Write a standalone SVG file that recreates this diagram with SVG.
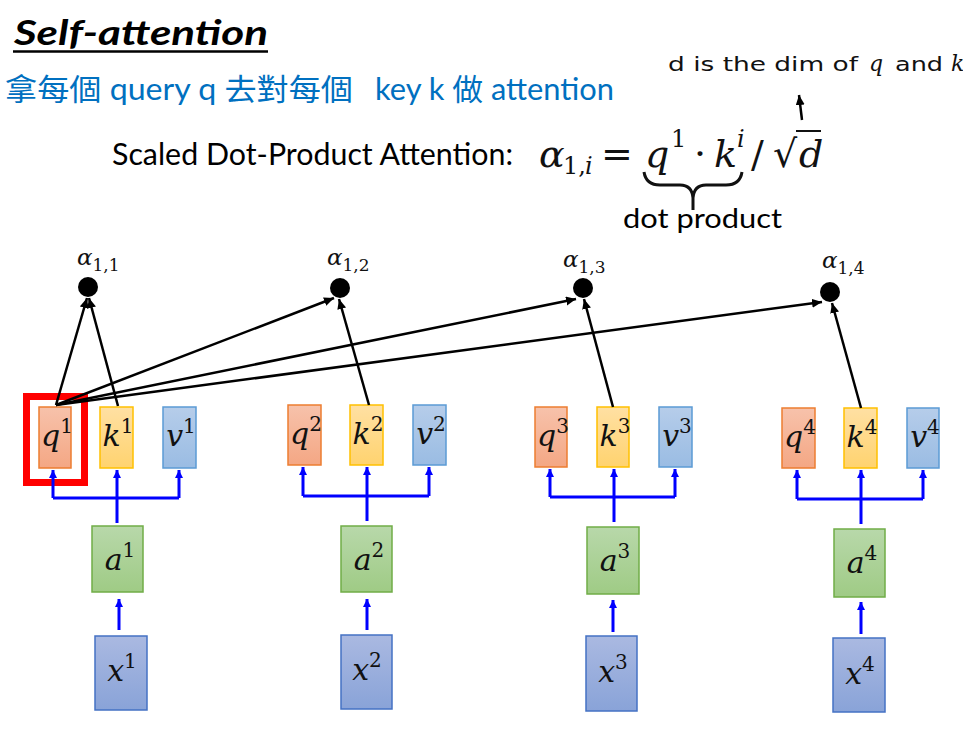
<svg xmlns="http://www.w3.org/2000/svg" width="963" height="729" viewBox="0 0 963 729">
<defs>
<linearGradient id="gq" x1="0" y1="0" x2="0" y2="1"><stop offset="0" stop-color="#F7C2AB"/><stop offset="1" stop-color="#F4A784"/></linearGradient>
<linearGradient id="gk" x1="0" y1="0" x2="0" y2="1"><stop offset="0" stop-color="#FFE0A3"/><stop offset="1" stop-color="#FFD36F"/></linearGradient>
<linearGradient id="gv" x1="0" y1="0" x2="0" y2="1"><stop offset="0" stop-color="#B6CDEA"/><stop offset="1" stop-color="#9ABCE3"/></linearGradient>
<linearGradient id="ga" x1="0" y1="0" x2="0" y2="1"><stop offset="0" stop-color="#B8D8AA"/><stop offset="1" stop-color="#9FCB85"/></linearGradient>
<linearGradient id="gx" x1="0" y1="0" x2="0" y2="1"><stop offset="0" stop-color="#AAB9E1"/><stop offset="1" stop-color="#89A3D8"/></linearGradient>
<marker id="ab" markerUnits="userSpaceOnUse" markerWidth="10" markerHeight="10" refX="8" refY="4" orient="auto"><path d="M0,0 L8,4 L0,8 z" fill="#0000FF"/></marker>
<marker id="ak" markerUnits="userSpaceOnUse" markerWidth="12" markerHeight="10" refX="10" refY="4.5" orient="auto"><path d="M0,0 L10,4.5 L0,9 z" fill="#000"/></marker>
</defs>
<style>
.q{fill:url(#gq);stroke:#ED7D31;stroke-width:1.5}
.k{fill:url(#gk);stroke:#FFC000;stroke-width:1.5}
.v{fill:url(#gv);stroke:#5B9BD5;stroke-width:1.5}
.a{fill:url(#ga);stroke:#70AD47;stroke-width:1.5}
.x{fill:url(#gx);stroke:#4472C4;stroke-width:1.5}
.lbl{font-family:"DejaVu Serif","Liberation Serif",serif;font-style:italic;font-size:30px;fill:#111;text-anchor:middle}
.sup{font-style:normal;font-size:20px}
.al{font-family:"DejaVu Serif","Liberation Serif",serif;font-style:italic;font-size:23px;fill:#111}
.sub{font-style:normal;font-size:17px}
.blue{stroke:#0000FF;stroke-width:3;fill:none}
.blk{stroke:#000;stroke-width:2.5;fill:none}
.sans{font-family:Lato,"Open Sans","Noto Sans CJK TC",sans-serif}
.m{font-family:"DejaVu Serif","Liberation Serif",serif;fill:#111}
.nt{font-family:"DejaVu Sans",Verdana,sans-serif;font-size:20px}
.ni{font-family:"DejaVu Serif",serif;font-style:italic;font-size:22px}
</style>

<g id="title">
<text x="14" y="45" font-family="Lato,'Liberation Sans',sans-serif" font-weight="bold" font-style="italic" font-size="34" textLength="254" lengthAdjust="spacingAndGlyphs" fill="#000">Self-attention</text>
<line x1="13" y1="51.5" x2="268" y2="51.5" stroke="#000" stroke-width="2.5"/>
</g>
<g id="subtitle" fill="#0070C0" font-size="30">
<text class="sans" x="5" y="100" textLength="348" lengthAdjust="spacingAndGlyphs">拿每個 query q 去對每個</text>
<text class="sans" x="375" y="100" textLength="239" lengthAdjust="spacingAndGlyphs">key k 做 attention</text>
</g>
<g id="formula">
<text class="sans" x="112" y="165" font-size="30" textLength="401" lengthAdjust="spacingAndGlyphs" fill="#000">Scaled Dot-Product Attention:</text>
<text class="m" font-size="38"><tspan x="539" y="167" font-style="italic">α</tspan><tspan x="563" y="174" font-size="24">1,</tspan><tspan x="585" y="174" font-size="24" font-style="italic">i</tspan><tspan x="601" y="167">=</tspan><tspan x="645" y="167" font-style="italic">q</tspan><tspan x="671" y="147" font-size="24">1</tspan><tspan x="694" y="167">·</tspan><tspan x="714" y="167" font-style="italic">k</tspan><tspan x="737" y="147" font-size="24" font-style="italic">i</tspan><tspan x="751" y="167">/</tspan></text>
<text class="m" x="773" y="167" font-size="38">√</text>
<text class="m" x="799" y="167" font-size="38" font-style="italic">d</text>
<line x1="796" y1="131" x2="821" y2="131" stroke="#111" stroke-width="2"/>
<path d="M644,172 Q646,185 660,185 L680,185 Q692,185 693,198 L693,210 M693,198 Q694,185 706,185 L726,185 Q740,185 742,172" stroke="#111" stroke-width="3" fill="none"/>
<text class="sans" x="623" y="228" font-size="27" textLength="159" lengthAdjust="spacingAndGlyphs" fill="#000">dot product</text>
</g>
<g id="note" fill="#111">
<text class="nt" x="668" y="71" textLength="190" lengthAdjust="spacingAndGlyphs">d is the dim of</text>
<text class="ni" x="869" y="71">q</text>
<text class="nt" x="895" y="71" textLength="48" lengthAdjust="spacingAndGlyphs">and</text>
<text class="ni" x="951" y="71">k</text>
<line x1="802" y1="120" x2="799" y2="95" class="blk" marker-end="url(#ak)"/>
</g>

<g id="col1">
<rect class="q" x="39" y="407" width="32" height="61"/><text class="lbl" x="57" y="446">q<tspan class="sup" dy="-13">1</tspan></text>
<rect class="k" x="100" y="407" width="33" height="61"/><text class="lbl" x="118" y="446">k<tspan class="sup" dy="-13">1</tspan></text>
<rect class="v" x="163" y="407" width="33" height="61"/><text class="lbl" x="181" y="446">v<tspan class="sup" dy="-13">1</tspan></text>
<rect class="a" x="92" y="526" width="51" height="66"/><text class="lbl" x="120" y="570">a<tspan class="sup" dy="-13">1</tspan></text>
<rect class="x" x="95" y="636" width="52" height="74"/><text class="lbl" x="122" y="681">x<tspan class="sup" dy="-13">1</tspan></text>
<circle cx="88" cy="287" r="10" fill="#000"/><text class="al" x="77" y="265">α<tspan class="sub" dy="6">1,1</tspan></text>
</g>
<g id="col2">
<rect class="q" x="288" y="405" width="33" height="60"/><text class="lbl" x="306" y="444">q<tspan class="sup" dy="-13">2</tspan></text>
<rect class="k" x="350" y="405" width="33" height="60"/><text class="lbl" x="368" y="444">k<tspan class="sup" dy="-13">2</tspan></text>
<rect class="v" x="413" y="405" width="33" height="60"/><text class="lbl" x="431" y="444">v<tspan class="sup" dy="-13">2</tspan></text>
<rect class="a" x="341" y="526" width="51" height="66"/><text class="lbl" x="369" y="570">a<tspan class="sup" dy="-13">2</tspan></text>
<rect class="x" x="341" y="635" width="51" height="74"/><text class="lbl" x="367" y="680">x<tspan class="sup" dy="-13">2</tspan></text>
<circle cx="340" cy="288" r="10" fill="#000"/><text class="al" x="327" y="265">α<tspan class="sub" dy="6">1,2</tspan></text>
</g>
<g id="col3">
<rect class="q" x="535" y="407" width="32" height="60"/><text class="lbl" x="553" y="446">q<tspan class="sup" dy="-13">3</tspan></text>
<rect class="k" x="597" y="407" width="32" height="60"/><text class="lbl" x="615" y="446">k<tspan class="sup" dy="-13">3</tspan></text>
<rect class="v" x="659" y="407" width="33" height="60"/><text class="lbl" x="677" y="446">v<tspan class="sup" dy="-13">3</tspan></text>
<rect class="a" x="587" y="527" width="52" height="67"/><text class="lbl" x="615" y="571">a<tspan class="sup" dy="-13">3</tspan></text>
<rect class="x" x="586" y="636" width="51" height="75"/><text class="lbl" x="613" y="682">x<tspan class="sup" dy="-13">3</tspan></text>
<circle cx="583" cy="288" r="10" fill="#000"/><text class="al" x="563" y="267">α<tspan class="sub" dy="6">1,3</tspan></text>
</g>
<g id="col4">
<rect class="q" x="782" y="408" width="33" height="60"/><text class="lbl" x="800" y="447">q<tspan class="sup" dy="-13">4</tspan></text>
<rect class="k" x="844" y="408" width="33" height="60"/><text class="lbl" x="862" y="447">k<tspan class="sup" dy="-13">4</tspan></text>
<rect class="v" x="907" y="408" width="32" height="60"/><text class="lbl" x="925" y="447">v<tspan class="sup" dy="-13">4</tspan></text>
<rect class="a" x="834" y="529" width="51" height="68"/><text class="lbl" x="862" y="573">a<tspan class="sup" dy="-13">4</tspan></text>
<rect class="x" x="833" y="638" width="52" height="74"/><text class="lbl" x="860" y="684">x<tspan class="sup" dy="-13">4</tspan></text>
<circle cx="830" cy="292" r="10" fill="#000"/><text class="al" x="822" y="268">α<tspan class="sub" dy="6">1,4</tspan></text>
</g>
<g id="highlight">
<rect x="26.5" y="396.5" width="58" height="86" fill="none" stroke="#FF0000" stroke-width="7"/>
</g>

<g id="connectors">
<path class="blue" d="M117,523 V498 M53,498 H179"/>
<path class="blue" d="M53,498 V470" marker-end="url(#ab)"/>
<path class="blue" d="M117,498 V470" marker-end="url(#ab)"/>
<path class="blue" d="M179,498 V470" marker-end="url(#ab)"/>
<path class="blue" d="M119,630 V599" marker-end="url(#ab)"/>
<path class="blue" d="M367,521 V496 M303,496 H429"/>
<path class="blue" d="M303,496 V467" marker-end="url(#ab)"/>
<path class="blue" d="M367,496 V467" marker-end="url(#ab)"/>
<path class="blue" d="M429,496 V467" marker-end="url(#ab)"/>
<path class="blue" d="M367,630 V599" marker-end="url(#ab)"/>
<path class="blue" d="M614,522 V497 M550,497 H675"/>
<path class="blue" d="M550,497 V469" marker-end="url(#ab)"/>
<path class="blue" d="M614,497 V469" marker-end="url(#ab)"/>
<path class="blue" d="M675,497 V469" marker-end="url(#ab)"/>
<path class="blue" d="M613,632 V600" marker-end="url(#ab)"/>
<path class="blue" d="M861,524 V499 M797,499 H923"/>
<path class="blue" d="M797,499 V470" marker-end="url(#ab)"/>
<path class="blue" d="M861,499 V470" marker-end="url(#ab)"/>
<path class="blue" d="M923,499 V470" marker-end="url(#ab)"/>
<path class="blue" d="M861,634 V602" marker-end="url(#ab)"/>
<line class="blk" x1="56" y1="405" x2="87" y2="298" marker-end="url(#ak)"/>
<line class="blk" x1="118" y1="406" x2="89" y2="298" marker-end="url(#ak)"/>
<line class="blk" x1="56" y1="405" x2="334" y2="298" marker-end="url(#ak)"/>
<line class="blk" x1="369" y1="405" x2="339" y2="299" marker-end="url(#ak)"/>
<line class="blk" x1="56" y1="405" x2="576" y2="299" marker-end="url(#ak)"/>
<line class="blk" x1="613" y1="407" x2="584" y2="299" marker-end="url(#ak)"/>
<line class="blk" x1="56" y1="405" x2="822" y2="302" marker-end="url(#ak)"/>
<line class="blk" x1="861" y1="408" x2="832" y2="303" marker-end="url(#ak)"/>
</g>
</svg>
